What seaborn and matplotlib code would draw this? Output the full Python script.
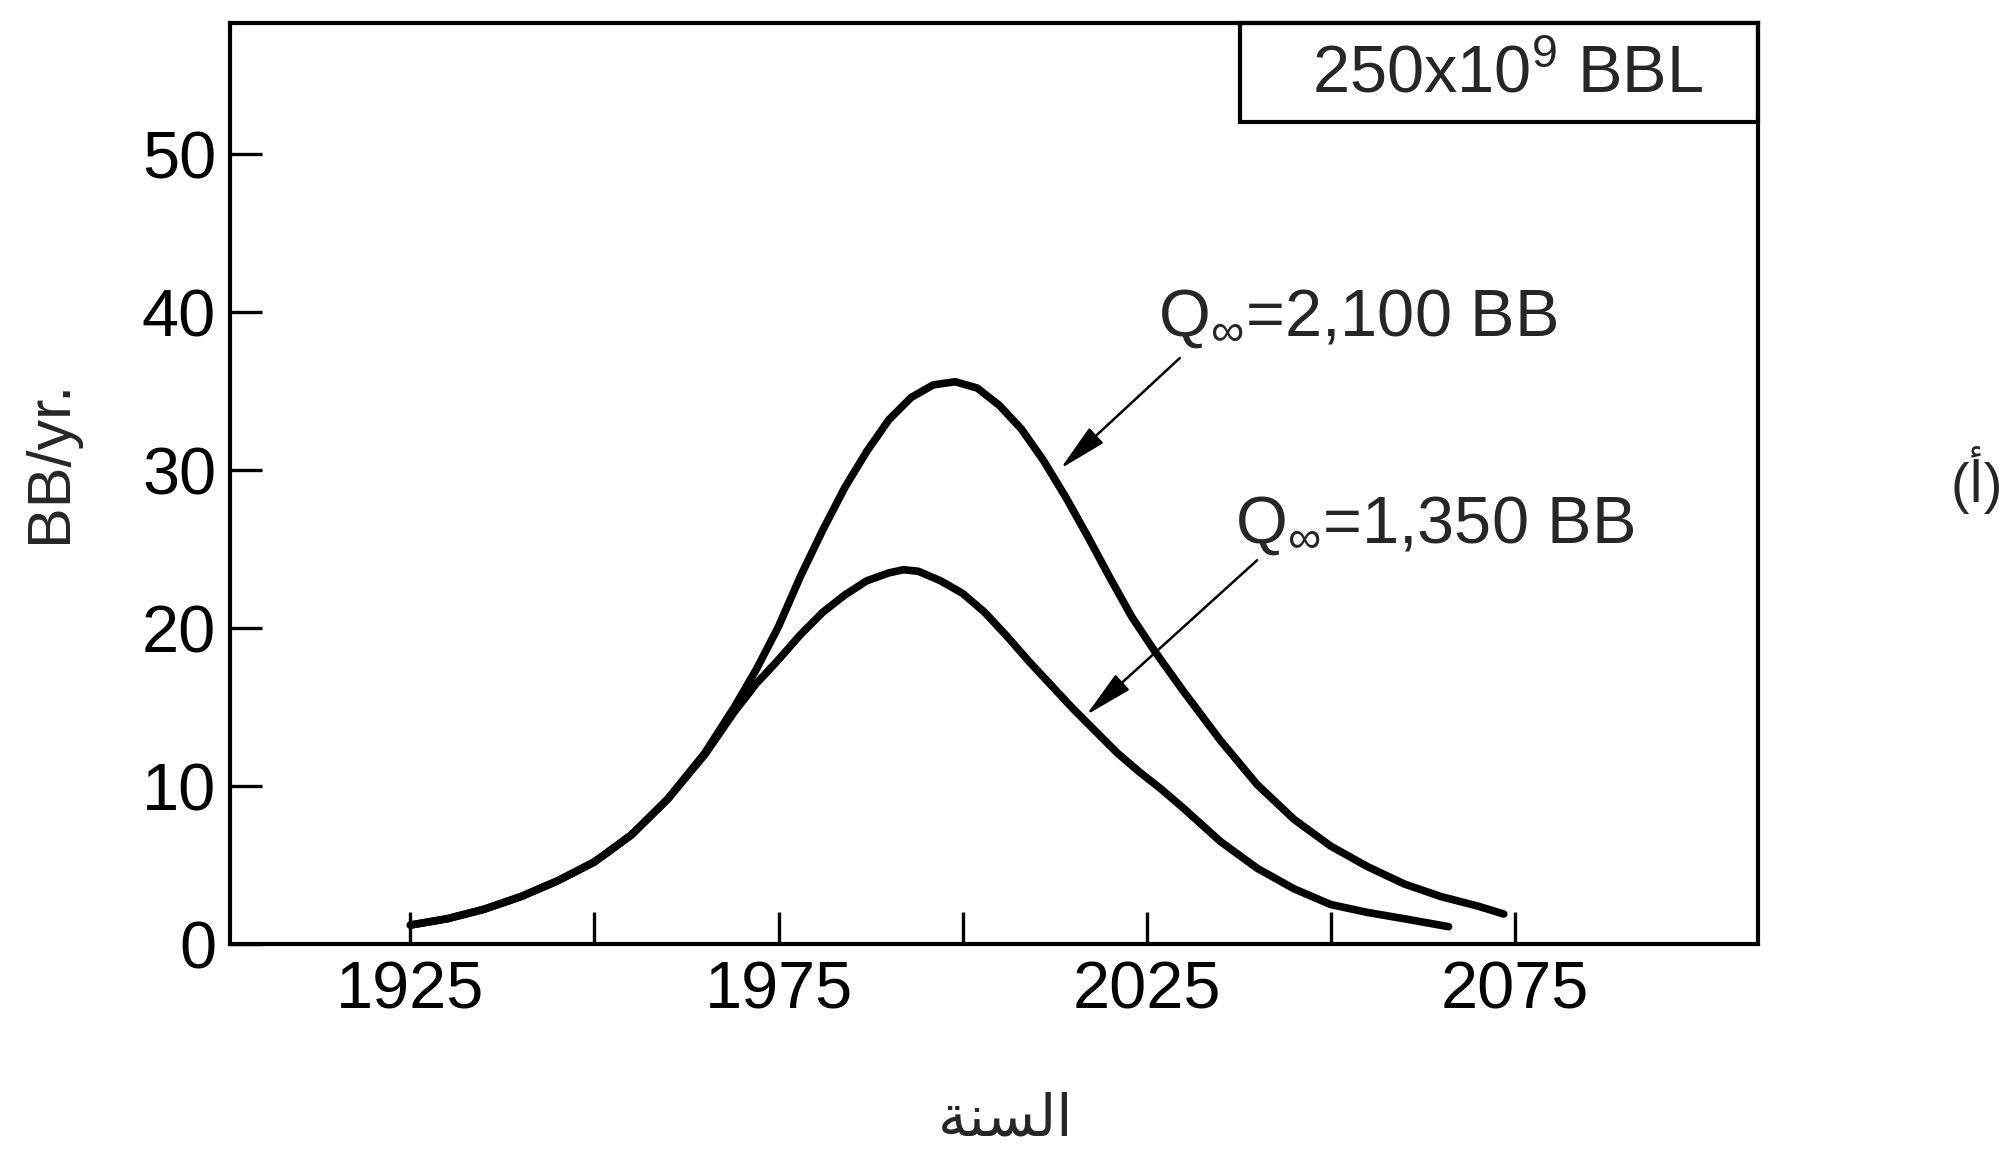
import pandas as pd
import matplotlib.pyplot as plt
import seaborn as sns
from matplotlib.patches import Rectangle
from matplotlib.ticker import FixedLocator

# Production curves (billion barrels per year)
years_high = [1925, 1930, 1935, 1940, 1945, 1950, 1955, 1960, 1965, 1969, 1972, 1975,
              1978, 1981, 1984, 1987, 1990, 1993, 1996, 1999, 2002, 2005, 2008, 2011,
              2014, 2017, 2020, 2023, 2026, 2030, 2035, 2040, 2045, 2050, 2055, 2060,
              2065, 2070, 2073.5]
rate_high = [1.2, 1.6, 2.2, 3.0, 4.0, 5.2, 6.9, 9.2, 12.1, 15.0, 17.4, 20.1,
             23.3, 26.2, 28.9, 31.2, 33.2, 34.6, 35.4, 35.6, 35.2, 34.1, 32.6, 30.6,
             28.3, 25.8, 23.2, 20.7, 18.6, 16.0, 12.9, 10.1, 7.9, 6.2, 4.9, 3.8,
             3.0, 2.4, 1.9]

years_low = [1925, 1930, 1935, 1940, 1945, 1950, 1955, 1960, 1965, 1969, 1972, 1975,
             1978, 1981, 1984, 1987, 1990, 1992, 1994, 1997, 2000, 2003, 2006, 2009,
             2012, 2015, 2018, 2021, 2024, 2027, 2030, 2035, 2040, 2045, 2050, 2055,
             2060, 2066]
rate_low = [1.2, 1.6, 2.2, 3.0, 4.0, 5.2, 6.9, 9.2, 12.0, 14.7, 16.5, 18.0,
            19.6, 21.0, 22.1, 23.0, 23.5, 23.7, 23.6, 23.0, 22.2, 21.0, 19.5, 17.9,
            16.4, 14.9, 13.5, 12.1, 10.9, 9.8, 8.6, 6.5, 4.8, 3.5, 2.5, 2.0,
            1.6, 1.1]

major_years = [1925, 1975, 2025, 2075]
minor_years = [1950, 2000, 2050]
y_ticks = [0, 10, 20, 30, 40, 50]

label_high = r"Q$_{\infty}$=2,100 BB"
label_low = r"Q$_{\infty}$=1,350 BB"
box_label = r"250x10$^{9}$ BBL"
x_title = "\ufe94\ufee8\ufeb4\ufedf\ufe8d"  # السنة, shaped for display
panel_tag = "(أ)"

df = pd.concat([
    pd.DataFrame({"year": years_high, "rate": rate_high, "case": "high"}),
    pd.DataFrame({"year": years_low, "rate": rate_low, "case": "low"}),
])

sns.set_style("ticks")
plt.rcParams["font.family"] = ["Liberation Sans", "DejaVu Sans"]
plt.rcParams["mathtext.fontset"] = "custom"
plt.rcParams["mathtext.rm"] = "Liberation Sans"
plt.rcParams["mathtext.it"] = "Liberation Sans"

fig = plt.figure(figsize=(20.05, 11.73), dpi=100)
ax = fig.add_axes([0.1147, 0.1952, 0.762, 0.785])

sns.lineplot(data=df, x="year", y="rate", hue="case", units="case", estimator=None,
             palette={"high": "black", "low": "black"}, linewidth=5.5,
             solid_joinstyle="round", solid_capstyle="round",
             legend=False, ax=ax)

ax.set_xlim(1900.5, 2108)
ax.set_ylim(0, 58.3)

ax.xaxis.set_major_locator(FixedLocator(major_years))
ax.xaxis.set_minor_locator(FixedLocator(minor_years))
ax.set_xticklabels([str(y) for y in major_years])
ax.set_yticks(y_ticks)
ax.tick_params(axis="both", which="both", direction="in", length=23, width=2.4,
               labelsize=48, colors="black")
ax.tick_params(axis="x", which="both", pad=12)
ax.tick_params(axis="y", pad=10, left=True)

for side in ["left", "right", "top", "bottom"]:
    ax.spines[side].set_visible(True)
    ax.spines[side].set_linewidth(3.0)
    ax.spines[side].set_color("black")

ax.set_ylabel("BB/yr.", fontsize=44)
ax.yaxis.set_label_coords(-0.099, 0.524)
ax.set_xlabel(x_title, fontsize=42)
ax.xaxis.set_label_coords(0.508, -0.162)

# boxed label in the upper right corner
ax.add_patch(Rectangle((0.661, 0.8925), 0.339, 0.1075, transform=ax.transAxes,
                       fill=False, lw=3.0, edgecolor="black", clip_on=False))
ax.text(0.836, 0.943, box_label, transform=ax.transAxes, ha="center", va="center",
        fontsize=48)

arrow = dict(arrowstyle="-|>,head_length=0.75,head_width=0.16", mutation_scale=40,
             lw=1.8, color="black", shrinkA=0, shrinkB=0)
ax.annotate("", xy=(2013.3, 30.1), xytext=(2029.5, 37.1), arrowprops=arrow)
ax.annotate("", xy=(2016.8, 14.5), xytext=(2040.0, 24.3), arrowprops=arrow)
ax.text(2026.5, 38.5, label_high, fontsize=48, ha="left", va="baseline")
ax.text(2037.0, 25.4, label_low, fontsize=48, ha="left", va="baseline")

fig.text(1977 / 2005, 1 - 480 / 1173, panel_tag, ha="center", va="center", fontsize=40)

fig.savefig("out.png", dpi=100, facecolor="white")
